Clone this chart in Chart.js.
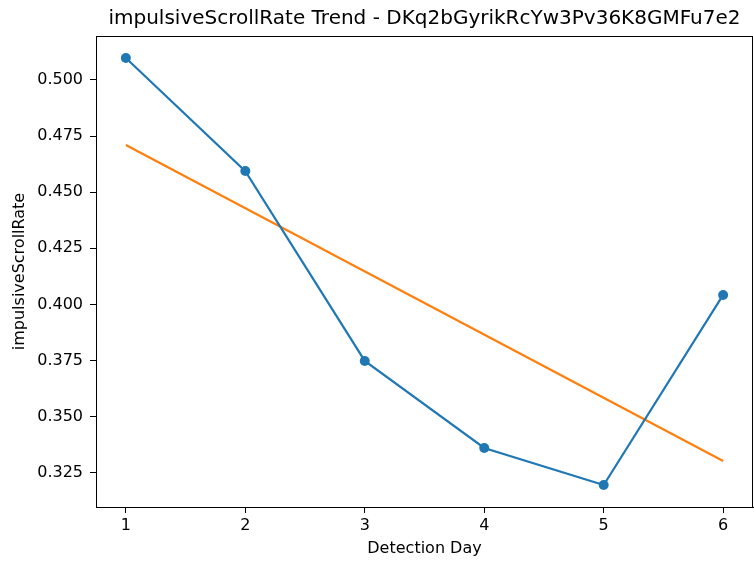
<!DOCTYPE html>
<html>
<head>
<meta charset="utf-8">
<script src="https://cdn.jsdelivr.net/npm/chart.js@4"></script>
<style>
  html, body { margin: 0; padding: 0; background: #fff; }
  canvas { display: block; }
</style>
</head>
<body>
<canvas id="trendChart" width="754" height="566"></canvas>
<script>
const days = [1, 2, 3, 4, 5, 6];
const rates = [0.5098, 0.4594, 0.3748, 0.3360, 0.3195, 0.4042];
const trendDays = [1, 6];
const trendRates = [0.4710, 0.3302];
const xTicks = [1, 2, 3, 4, 5, 6];
const yTicks = [0.325, 0.350, 0.375, 0.400, 0.425, 0.450, 0.475, 0.500];

const FONT = 'DejaVu Sans';

// matplotlib-like box round the axes
const frame = {
  id: 'frame',
  afterDatasetsDraw(chart) {
    const { ctx, chartArea: a } = chart;
    ctx.save();
    ctx.strokeStyle = '#000';
    ctx.lineWidth = 1;
    ctx.strokeRect(Math.round(a.left) + 0.5, Math.round(a.top) + 0.5,
      Math.round(a.right - a.left) - 1, Math.round(a.bottom - a.top));
    ctx.restore();
  }
};

const ctx = document.getElementById('trendChart').getContext('2d');

new Chart(ctx, {
  type: 'line',
  data: {
    datasets: [
      {
        label: 'impulsiveScrollRate',
        data: days.map((d, i) => ({ x: d, y: rates[i] })),
        borderColor: '#1f77b4',
        backgroundColor: '#1f77b4',
        borderWidth: 2.2,
        pointRadius: 5,
        pointHoverRadius: 5,
        pointBorderWidth: 0,
        tension: 0
      },
      {
        label: 'trend',
        data: trendDays.map((d, i) => ({ x: d, y: trendRates[i] })),
        borderColor: '#ff7f0e',
        backgroundColor: '#ff7f0e',
        borderWidth: 2.2,
        pointRadius: 0,
        tension: 0
      }
    ]
  },
  options: {
    responsive: false,
    animation: false,
    layout: {
      autoPadding: false,
      padding: { left: 0, right: 1, top: 0, bottom: 0 }
    },
    scales: {
      x: {
        type: 'linear',
        min: 0.75,
        max: 6.25,
        afterBuildTicks: (scale) => {
          scale.ticks = xTicks.map((v) => ({ value: v }));
        },
        afterFit: (scale) => {
          scale.height = 59;
        },
        grid: {
          drawOnChartArea: false,
          drawTicks: true,
          tickLength: 6,
          tickColor: '#000'
        },
        border: { display: true, color: '#000' },
        ticks: {
          color: '#000',
          padding: 3,
          maxRotation: 0,
          font: { family: FONT, size: 16 },
          callback: (value) => String(value)
        },
        title: {
          display: true,
          text: 'Detection Day',
          color: '#000',
          font: { family: FONT, size: 16 },
          padding: { top: 0, bottom: 8 }
        }
      },
      y: {
        type: 'linear',
        min: 0.3097,
        max: 0.5196,
        afterBuildTicks: (scale) => {
          scale.ticks = yTicks.map((v) => ({ value: v }));
        },
        afterFit: (scale) => {
          scale.width = 96;
        },
        grid: {
          drawOnChartArea: false,
          drawTicks: true,
          tickLength: 6,
          tickColor: '#000'
        },
        border: { display: true, color: '#000' },
        ticks: {
          color: '#000',
          padding: 7,
          font: { family: FONT, size: 16 },
          callback: (value) => Number(value).toFixed(3)
        },
        title: {
          display: true,
          text: 'impulsiveScrollRate',
          color: '#000',
          font: { family: FONT, size: 16 },
          padding: { top: 10, bottom: 0 }
        }
      }
    },
    plugins: {
      legend: { display: false },
      tooltip: { enabled: false },
      title: {
        display: true,
        fullSize: false,
        text: 'impulsiveScrollRate Trend - DKq2bGyrikRcYw3Pv36K8GMFu7e2',
        color: '#000',
        font: { family: FONT, size: 20, weight: 'normal' },
        padding: { top: 6.5, bottom: 5.5 }
      }
    }
  },
  plugins: [frame]
});
</script>
</body>
</html>
